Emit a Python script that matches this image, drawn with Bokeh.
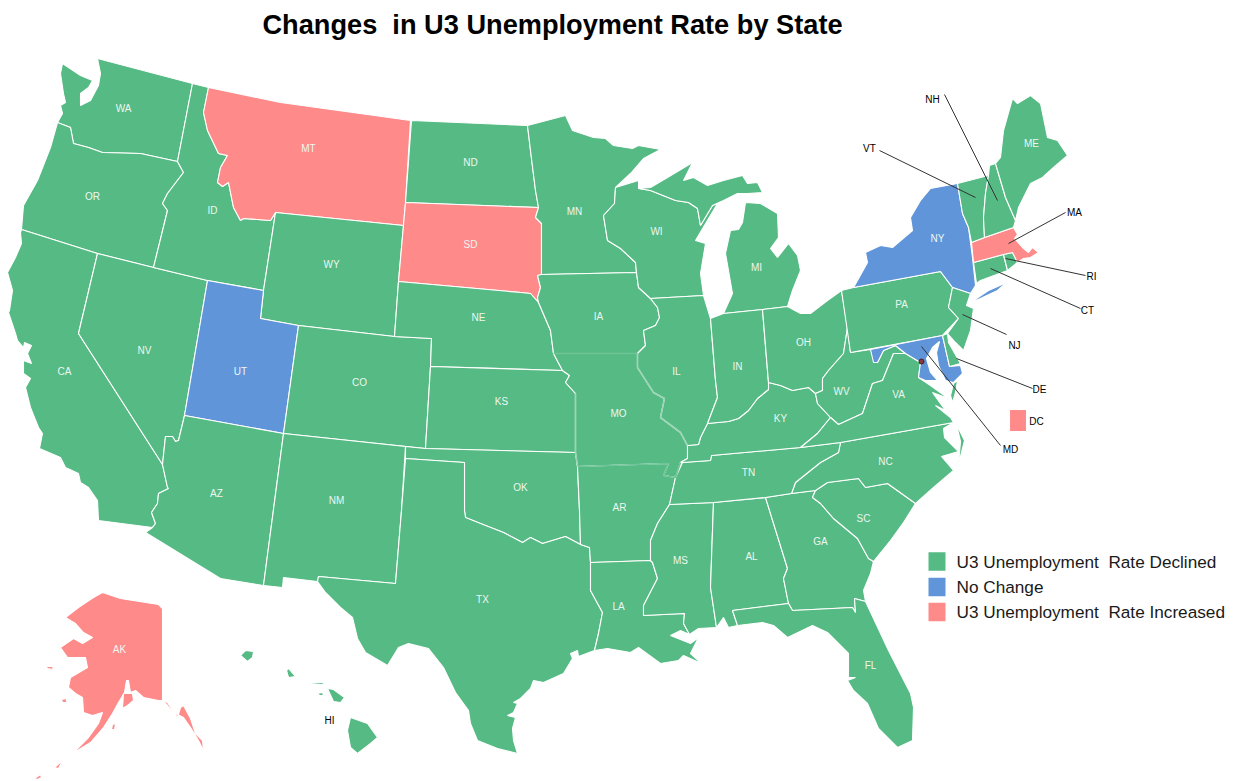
from bokeh.plotting import figure
from bokeh.models import Range1d, ColumnDataSource
from bokeh.core.properties import value
from bokeh.embed import file_html
from bokeh.resources import INLINE

TITLE = "Changes \u00a0in U3 Unemployment Rate by State"
STATUS_NAMES = ["U3 Unemployment \u00a0Rate Declined", "No Change", "U3 Unemployment \u00a0Rate Increased"]
STATUS_COLORS = ["#55BA83", "#6095DA", "#FF8A8A"]
DECLINED, NOCHANGE, INCREASED = 0, 1, 2

def rev(seq):
    return list(reversed(seq))

# Shared borders, (x, y) in picture pixels
WA_OR = [(57,122),(70,127),(73,143),(88,147),(102,152),(140,153),(177,161)]
OR_ID = [(177,161),(183,172),(167,193),(162,203),(167,210),(153,267)]
ID_MT = [(208,87),(203,112),(207,130),(218,153),(227,155),(220,167),(217,182),(222,186),(228,182),(233,207),(240,220),(243,218),(270,220),(275,212)]
CA_AZ = [(162,464),(167,487),(168,488),(158,493),(157,503),(151,512),(155,523),(152,527)]
NV_AZ = [(184,415),(178,440),(175,441),(172,436),(165,436),(162,464)]
CA_COAST = [(21,229),(20,232),(21,243),(15,257),(7,272),(12,290),(9,310),(8,312),(15,333),(17,340),(23,347),(24,342),(31,345),(27,353),(31,363),(23,360),(23,373),(30,378),(25,387),(30,407),(38,427),(42,433),(39,448),(60,457),(65,467),(78,473),(80,482),(88,487),(97,500),(98,520)]
OK_TX = [(464,510),(465,517),(480,523),(503,532),(522,542),(530,537),(542,543),(565,536),(580,544)]
TX_LA = [(590,562),(590,590),(602,612),(598,633),(594,650)]
TX_COAST = [(317,581),(325,592),(340,607),(352,617),(357,638),(365,652),(387,665),(398,647),(408,643),(428,648),(443,667),(455,692),(468,710),(470,723),(477,740),(497,748),(517,753),(513,740),(512,728),(515,717),(507,715),(513,712),(517,703),(513,702),(520,698),(530,688),(533,680),(543,682),(563,673),(572,658),(570,653),(577,650),(578,656),(594,650)]
RIVER_AR_MS = [(669,504),(657,523),(650,540),(650,560)]
LA_MS = [(650,560),(652,562),(657,578),(643,605),(643,615),(684,613),(683,623),(689,634)]
MN_WI = [(615,187),(614,203),(603,215),(607,240),(620,248),(635,262),(636,272)]
MO_IL = [(637,353),(637,367),(653,392),(664,398),(660,417),(680,432),(687,445)]
AR_MO = [(577,466),(668,463),(663,475),(675,477),(680,462)]
KS_MO = [(562,370),(569,375),(565,382),(575,393),(575,452),(577,466)]
IA_MO = [(553,353),(637,353)]

SHAPES = [
 ("WA", DECLINED, [(62,63),(80,75),(92,80),(88,87),(80,93),(80,105),(90,100),(98,85),(100,73),(97,58),(192,83),(177,161)] + rev(WA_OR) + [(62,113),(60,105),(65,102),(63,93),(60,73)]),
 ("OR", DECLINED, WA_OR + OR_ID + [(97,253),(21,229),(23,205),(37,180),(50,147)]),
 ("CA", DECLINED, CA_COAST + rev(CA_AZ) + [(78,333),(97,253)]),
 ("NV", DECLINED, [(97,253),(153,267),(207,280)] + NV_AZ + [(78,333)]),
 ("ID", DECLINED, [(192,83)] + ID_MT + [(263,290),(207,280),(153,267)] + rev(OR_ID)),
 ("MT", INCREASED, ID_MT + [(403,225),(405,202),(410,120),(280,102)]),
 ("WY", DECLINED, [(275,212),(403,225),(398,281),(394,336),(298,325),(260,318),(263,290)]),
 ("UT", NOCHANGE, [(207,280),(263,290),(260,318),(298,325),(283,433),(184,415)]),
 ("AZ", DECLINED, [(184,415),(283,433),(263,585),(220,578),(145,532)] + rev(CA_AZ) + rev(NV_AZ)),
 ("CO", DECLINED, [(298,325),(394,336),(431,338),(430,366),(425,448),(283,433)]),
 ("NM", DECLINED, [(283,433),(405,446),(401,510),(395,583),(318,576),(317,581),(283,577),(282,587),(263,585)]),
 ("ND", DECLINED, [(411,120),(527,125),(530,150),(535,190),(538,207),(405,202)]),
 ("SD", INCREASED, [(405,202),(538,207),(535,217),(541,223),(541,274),(537,275),(540,287),(537,297),(538,302),(530,293),(520,292),(398,281)]),
 ("NE", DECLINED, [(398,281),(520,292),(530,293),(538,302),(550,330),(553,353),(562,370),(430,366),(431,338),(394,336)]),
 ("KS", DECLINED, [(430,366)] + KS_MO[:-1] + [(425,448)]),
 ("OK", DECLINED, [(405,446),(425,448),(575,452),(577,466),(579,510)] + rev(OK_TX) + [(464,462),(405,458)]),
 ("TX", DECLINED, [(405,458),(464,462)] + OK_TX + [(589,547)] + TX_LA + rev(TX_COAST) + [(318,576),(395,583),(401,510)]),
 ("MN", DECLINED, [(527,125),(565,115),(572,130),(593,137),(605,138),(613,145),(632,148),(638,145),(660,149),(643,158),(630,173)] + MN_WI + [(541,274),(541,223),(535,217),(538,207),(535,190),(530,150)]),
 ("IA", DECLINED, [(541,274),(636,272),(638,287),(650,298),(657,307),(659,317),(655,325),(643,330),(645,345),(637,353),(553,353),(550,330),(538,302),(537,297),(540,287),(537,275)]),
 ("MO", DECLINED, IA_MO + MO_IL[1:] + [(687,458)] + rev(AR_MO) + KS_MO[1:-1][::-1] + [(562,370)]),
 ("AR", DECLINED, AR_MO[:-1] + [(675,477)] + RIVER_AR_MS + [(590,562),(589,547),(580,544),(579,510)]),
 ("LA", DECLINED, [(590,562)] + LA_MS + [(680,630),(670,635),(690,643),(698,637),(690,653),(701,663),(683,655),(678,660),(660,663),(638,647),(630,652),(607,648),(594,650)] + rev(TX_LA)),
 ("MS", DECLINED, [(669,504),(713,502),(710,587),(716,627),(698,628),(689,634)] + rev(LA_MS) + rev(RIVER_AR_MS)),
 ("AL", DECLINED, [(713,502),(765,497),(787,568),(783,578),(788,603),(732,610),(737,625),(728,627),(723,617),(716,627),(710,587)]),
 ("GA", DECLINED, [(765,497),(791,493),(815,490),(812,497),(820,503),(833,518),(857,538),(868,558),(873,561),(870,573),(863,590),(865,601),(854,598),(855,612),(852,607),(792,610),(788,603),(783,578),(787,568)]),
 ("FL", DECLINED, [(732,610),(788,603),(792,610),(852,607),(855,612),(854,598),(865,601),(888,650),(910,693),(913,707),(912,740),(897,747),(878,728),(867,703),(853,690),(847,680),(855,677),(848,677),(848,653),(827,632),(812,625),(787,637),(773,625),(762,622),(737,625)]),
 ("SC", DECLINED, [(815,490),(827,482),(858,478),(865,487),(887,483),(915,503),(903,522),(890,540),(873,561),(868,558),(857,538),(833,518),(820,503),(812,497)]),
 ("NC", DECLINED, [(840,442),(953,422),(943,428),(944,437),(958,451),(941,456),(953,470),(933,487),(915,503),(887,483),(865,487),(858,478),(827,482),(815,490),(791,493),(795,482),(820,462),(838,452)]),
 ("NC_banks", DECLINED, [(956,424),(964,440),(958,464),(960,441)]),
 ("TN", DECLINED, [(682,462),(710,460),(711,455),(800,447),(840,442),(838,452),(820,462),(795,482),(791,493),(765,497),(713,502),(669,504),(675,477)]),
 ("KY", DECLINED, [(680,462),(687,458),(687,445),(698,444),(700,437),(707,423),(728,421),(738,418),(748,410),(757,398),(768,389),(768,382),(780,385),(792,390),(808,387),(815,393),(817,403),(830,417),(817,433),(800,447),(711,455),(710,460),(682,462)]),
 ("WI", DECLINED, [(615,187),(638,180),(638,188),(650,190),(675,200),(688,202),(697,208),(700,225),(712,205),(717,203),(695,240),(705,243),(700,273),(703,295),(650,298),(638,287)] + rev(MN_WI)),
 ("MI_upper", DECLINED, [(638,188),(650,187),(667,177),(692,162),(683,180),(693,177),(707,185),(723,180),(742,175),(747,183),(757,182),(762,192),(747,193),(737,193),(723,200),(712,205),(700,225),(697,208),(688,202),(675,200),(650,190)]),
 ("MI", DECLINED, [(723,313),(732,293),(725,253),(730,230),(738,229),(742,222),(745,202),(760,203),(777,213),(778,237),(770,248),(777,257),(788,243),(797,255),(800,270),(792,290),(787,306),(762,309)]),
 ("IL", DECLINED, [(650,298),(703,295),(710,318),(715,380),(717,397),(707,423),(700,437),(698,444),(687,445)] + rev(MO_IL) + [(645,345),(643,330),(655,325),(659,317),(657,307)]),
 ("IN", DECLINED, [(710,318),(723,313),(762,309),(768,382),(768,389),(757,398),(748,410),(738,418),(728,421),(707,423),(717,397),(715,380)]),
 ("OH", DECLINED, [(762,309),(787,306),(800,313),(810,313),(827,300),(841,290),(847,327),(843,353),(828,370),(822,378),(822,390),(815,393),(808,387),(792,390),(780,385),(768,382)]),
 ("WV", DECLINED, [(847,327),(850,352),(870,349),(877,362),(883,350),(895,345),(905,353),(893,353),(882,380),(872,383),(862,413),(838,424),(830,417),(817,403),(815,393),(822,390),(822,378),(828,370),(843,353)]),
 ("VA", DECLINED, [(800,447),(817,433),(830,417),(838,424),(862,413),(872,383),(882,380),(893,353),(905,353),(920,362),(918,377),(930,385),(948,398),(932,392),(945,410),(935,405),(950,417),(953,422),(840,442)]),
 ("VA_shore", DECLINED, [(957,380),(953,383),(950,395),(952,402),(955,392)]),
 ("PA", DECLINED, [(841,290),(853,287),(940,271),(952,287),(948,307),(958,318),(942,335),(850,352)]),
 ("NY", NOCHANGE, [(957,183),(930,188),(920,200),(910,217),(912,230),(892,247),(880,245),(865,252),(867,262),(857,280),(853,287),(940,271),(952,287),(970,293),(975,285),(972,257),(968,227),(962,213)]),
 ("NY_long_island", NOCHANGE, [(970,302),(988,290),(1006,282),(997,290),(980,298)]),
 ("NJ", DECLINED, [(952,287),(970,293),(966,305),(973,308),(970,330),(963,350),(955,342),(947,333),(958,318),(948,307)]),
 ("MD", NOCHANGE, [(870,349),(942,335),(949,366),(960,365),(962,373),(953,382),(945,380),(938,365),(936,352),(939,341),(932,347),(926,358),(930,372),(937,380),(925,380),(918,377),(920,362),(905,353),(895,345),(883,350),(877,362),(873,362)]),
 ("DE", DECLINED, [(942,335),(947,333),(948,342),(960,363),(949,366)]),
 ("CT", DECLINED, [(973,262),(1003,254),(1007,270),(980,280),(976,283)]),
 ("RI", DECLINED, [(1003,254),(1012,252),(1017,262),(1007,270)]),
 ("MA", INCREASED, [(971,242),(984,237),(1013,227),(1017,234),(1014,238),(1022,247),(1028,252),(1032,247),(1038,252),(1030,257),(1023,258),(1017,262),(1012,252),(1003,254),(973,262)]),
 ("VT", DECLINED, [(957,183),(988,175),(985,193),(983,217),(984,237),(971,242),(968,227),(962,213)]),
 ("NH", DECLINED, [(988,175),(989,165),(995,163),(1005,197),(1015,220),(1013,227),(984,237),(983,217),(985,193)]),
 ("ME", DECLINED, [(995,163),(1000,157),(1003,130),(1012,98),(1017,103),(1030,95),(1040,103),(1047,137),(1057,140),(1067,155),(1053,167),(1042,177),(1030,183),(1018,207),(1015,220),(1005,197)]),
 ("AK", INCREASED, [(102,592),(120,598),(158,604),(162,608),(162,700),(158,700),(143,697),(135,690),(130,692),(128,680),(126,680),(124,692),(118,702),(112,713),(103,727),(90,742),(72,753),(88,737),(98,723),(102,712),(92,715),(83,712),(82,697),(75,693),(68,687),(70,677),(87,667),(85,657),(67,657),(60,647),(73,638),(82,643),(92,637),(83,632),(75,623),(65,617),(78,607),(93,597)]),
 ("AK_kenai", INCREASED, [(123,693),(132,693),(133,700),(127,705),(122,708)]),
 ("AK_panhandle", INCREASED, [(162,700),(167,702),(177,717),(180,707),(183,705),(190,718),(195,733),(202,740),(203,750),(198,740),(190,727),(183,717),(173,712),(167,705)]),
 ("AK_island1", INCREASED, [(45,666),(52,666),(53,669),(47,668)]),
 ("AK_island2", INCREASED, [(61,699),(66,698),(66,702),(62,702)]),
 ("AK_aleut1", INCREASED, [(112,724),(115,723),(114,729),(111,729)]),
 ("AK_aleut2", INCREASED, [(54,767),(62,760),(58,768)]),
 ("AK_aleut3", INCREASED, [(34,778),(40,774),(41,777),(37,779)]),
 ("HI_kauai", DECLINED, [(240,655),(245,650),(253,651),(252,657),(247,661)]),
 ("HI_oahu", DECLINED, [(286,670),(288,668),(295,676),(288,677)]),
 ("HI_molokai", DECLINED, [(309,683),(323,682),(323,684),(309,684)]),
 ("HI_lanai", DECLINED, [(317,693),(322,692),(323,695),(319,695)]),
 ("HI_maui", DECLINED, [(327,688),(333,689),(344,697),(340,702),(333,701)]),
 ("HI_big", DECLINED, [(350,717),(367,723),(377,737),(370,743),(357,753),(350,747),(347,730)]),
]
DC_BOX = ("DC", INCREASED, [(1009,409),(1026,409),(1026,431),(1009,431)])

# Borders that the reference draws faint
FAINT_LINES = [IA_MO, AR_MO, MO_IL, KS_MO[3:]]
FAINT_COLORS = ["#6FC498", "#6FC498", "#9AD5B6", "#9AD5B6"]

INNER_LABELS = ["WA","OR","CA","NV","ID","MT","WY","UT","AZ","CO","NM","ND","SD","NE","KS","OK","TX","MN","IA","MO","AR","LA","WI","IL","MI","IN","OH","KY","TN","MS","AL","GA","FL","SC","NC","VA","WV","PA","NY","ME","AK"]
INNER_X = [123,92,64,144,212,308,331,240,216,359,336,470,470,478,501,520,482,574,598,618,619,618,656,676,756,737,803,780,748,680,751,820,870,863,885,898,841,901,937,1031,119]
INNER_Y = [108,196,371,350,210,148,264,371,493,382,500,162,244,317,401,487,599,211,316,413,507,606,231,371,267,366,342,418,472,560,556,541,665,518,461,394,391,304,238,143,649]

OUTER_LABELS = ["NH","VT","MA","RI","CT","NJ","DE","MD","DC","HI"]
OUTER_X = [932,869,1074,1091,1087,1014,1039,1010,1036,329]
OUTER_Y = [99,148,212,276,310,345,389,449,421,720]
LEADER_X0 = [944,879,1065,1085,1080,1006,1032,1000]
LEADER_Y0 = [94,150,212,275,308,334,388,445]
LEADER_X1 = [997,975,1008,1005,990,962,956,921]
LEADER_Y1 = [200,197,243,258,268,314,358,346]
DC_DOT = (921, 361)

W, H = 1228, 779
p = figure(width=W, height=H, x_range=Range1d(0, W), y_range=Range1d(H, 0),
           output_backend="svg", toolbar_location=None, min_border=0, outline_line_color=None)
p.xaxis.visible = False
p.yaxis.visible = False
p.grid.visible = False

shapes = SHAPES + [DC_BOX]
src = ColumnDataSource(dict(
    xs=[[pt[0] for pt in s[2]] for s in shapes],
    ys=[[pt[1] for pt in s[2]] for s in shapes],
    c=[STATUS_COLORS[s[1]] for s in shapes],
))
p.patches("xs", "ys", source=src, fill_color="c", line_color="white", line_width=1.1)
p.multi_line([[pt[0] for pt in l] for l in FAINT_LINES], [[pt[1] for pt in l] for l in FAINT_LINES],
             line_color=FAINT_COLORS, line_width=1.6)

p.segment(LEADER_X0, LEADER_Y0, LEADER_X1, LEADER_Y1, line_color="#333333", line_width=1)
p.scatter([DC_DOT[0]], [DC_DOT[1]], size=5, fill_color="#8a3a3a", line_color="#402020", line_width=1)

p.text(INNER_X, INNER_Y, text=INNER_LABELS, text_font=value("Liberation Sans"), text_font_size="10px",
       text_color="#ecf7f1", text_align="center", text_baseline="middle")
p.text(OUTER_X, OUTER_Y, text=OUTER_LABELS, text_font=value("Liberation Sans"), text_font_size="10px",
       text_color="#000000", text_align="center", text_baseline="middle")

p.text([552], [24], text=[TITLE], text_font=value("Liberation Sans"), text_font_size="27.2px",
       text_font_style="bold", text_color="#000000", text_align="center", text_baseline="middle")

LEG_Y = [561, 586.5, 611.5]
p.rect([936.5]*3, LEG_Y, width=17, height=18.5, fill_color=STATUS_COLORS, line_color=None)
p.text([956]*3, LEG_Y, text=STATUS_NAMES, text_font=value("Liberation Sans"), text_font_size="17.2px",
       text_color="#1a1a1a", text_align="left", text_baseline="middle")

open("out.html", "w").write(file_html(p, INLINE))
